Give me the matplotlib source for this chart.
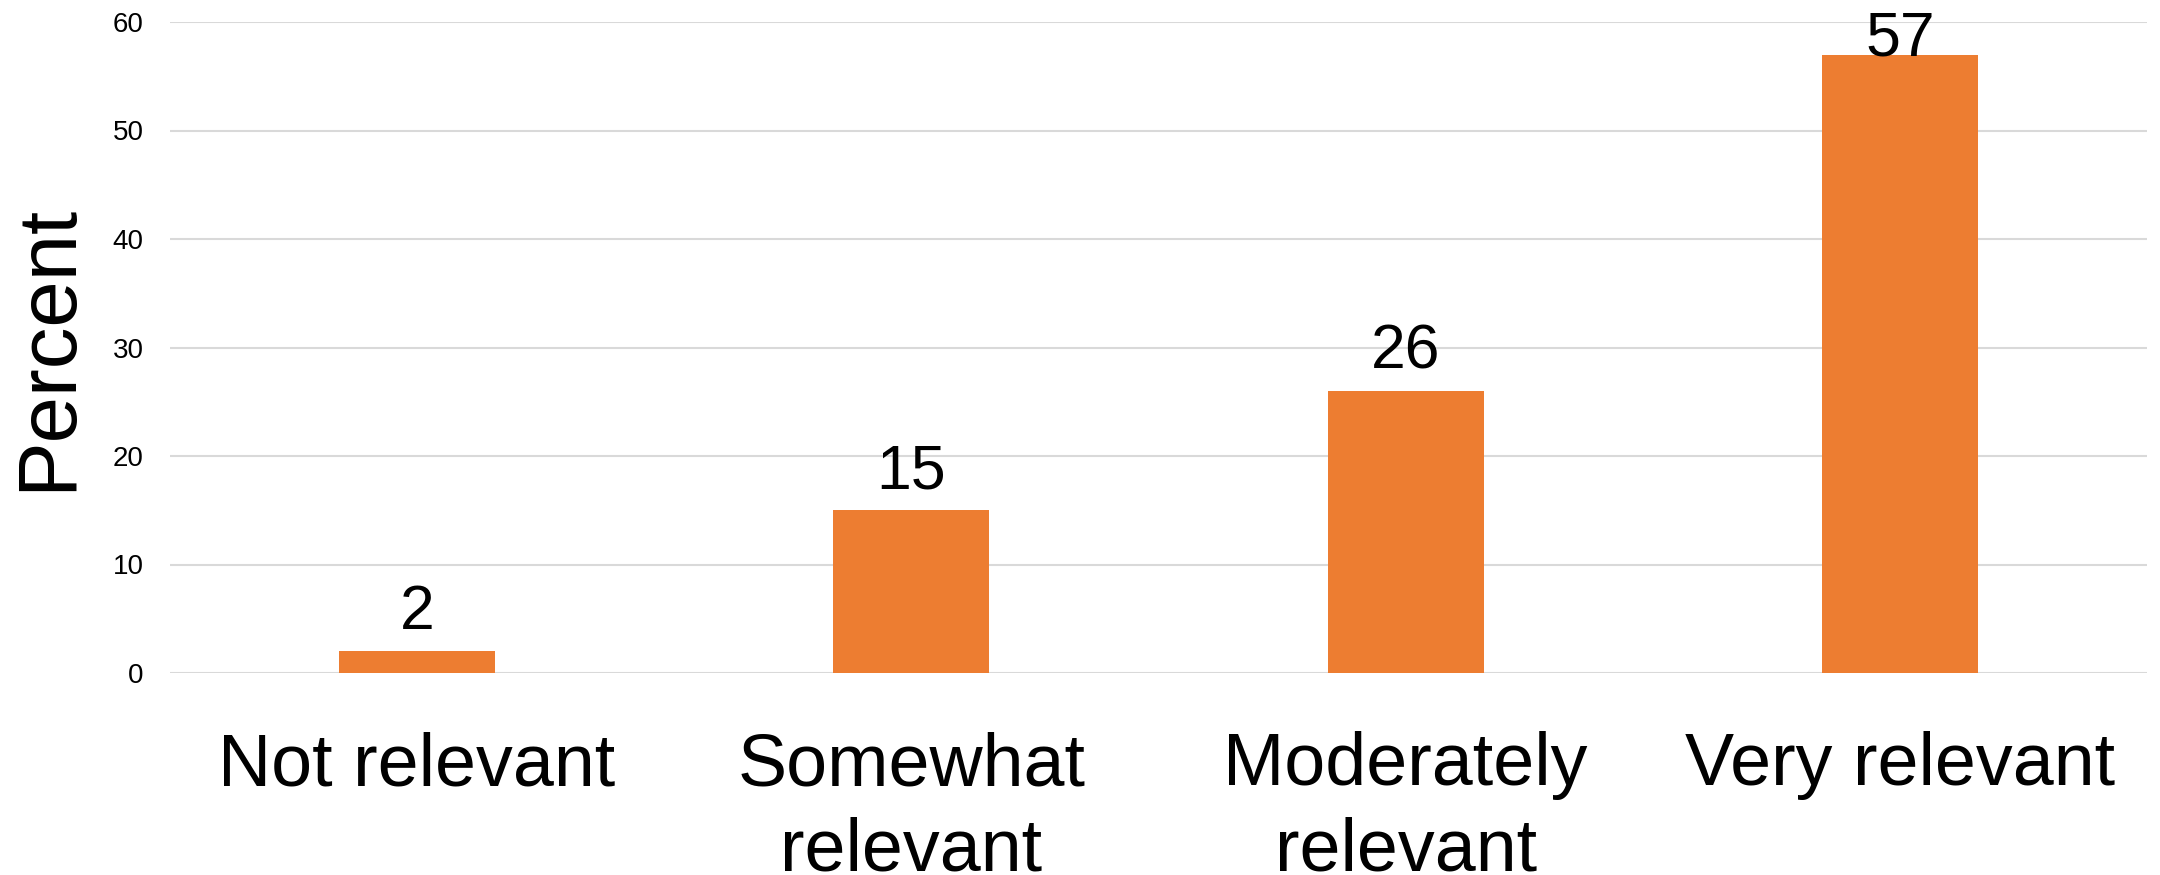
import matplotlib
matplotlib.use("Agg")
import matplotlib.pyplot as plt
import matplotlib.transforms as mtransforms
import numpy as np

categories = ["Not relevant", "Somewhat\nrelevant", "Moderately\nrelevant", "Very relevant"]
values = [2, 15, 26, 57]
y_ticks = [0, 10, 20, 30, 40, 50, 60]

BAR_COLOR = "#ED7D31"
GRID_COLOR = "#D9D9D9"

plt.rcParams["font.family"] = ["Liberation Sans", "DejaVu Sans"]

DPI = 100
fig = plt.figure(figsize=(21.6, 8.75), dpi=DPI)
ax = fig.add_axes([170 / 2160, 1 - 673 / 875, (2147 - 170) / 2160, (673 - 22) / 875])

x = np.arange(len(categories))
ax.bar(x, values, width=0.316, color=BAR_COLOR, zorder=3)

ax.set_xlim(-0.5, len(categories) - 0.5)
ax.set_ylim(0, 60)
ax.set_yticks(y_ticks)
ax.set_xticks(x)
ax.set_xticklabels(categories, fontsize=53, linespacing=1.3)

ax.yaxis.grid(True, color=GRID_COLOR, linewidth=1.5, zorder=0)
ax.set_axisbelow(True)
for side in ["left", "right", "top", "bottom"]:
    ax.spines[side].set_visible(False)

ax.tick_params(axis="y", length=0, pad=19, labelsize=20, labelcolor="black")
ax.tick_params(axis="x", length=0, pad=42, labelcolor="black")

ax.set_ylabel("Percent", fontsize=60, labelpad=18, color="black")

# value labels: baseline a fixed gap above the bar, kept inside the figure
trans = mtransforms.blended_transform_factory(ax.transData, mtransforms.IdentityTransform())
gap_px = 22
digit_h_px = 44
top_margin_px = 12
fig_h_px = fig.bbox.height
for xi, v in zip(x, values):
    _, y_top = ax.transData.transform((xi, v))
    baseline = min(y_top + gap_px, fig_h_px - top_margin_px - digit_h_px)
    ax.text(xi, baseline, f"{v}", transform=trans, ha="center", va="baseline",
            fontsize=45, color="black", zorder=4)

fig.savefig("out.png", dpi=DPI, facecolor="white")
